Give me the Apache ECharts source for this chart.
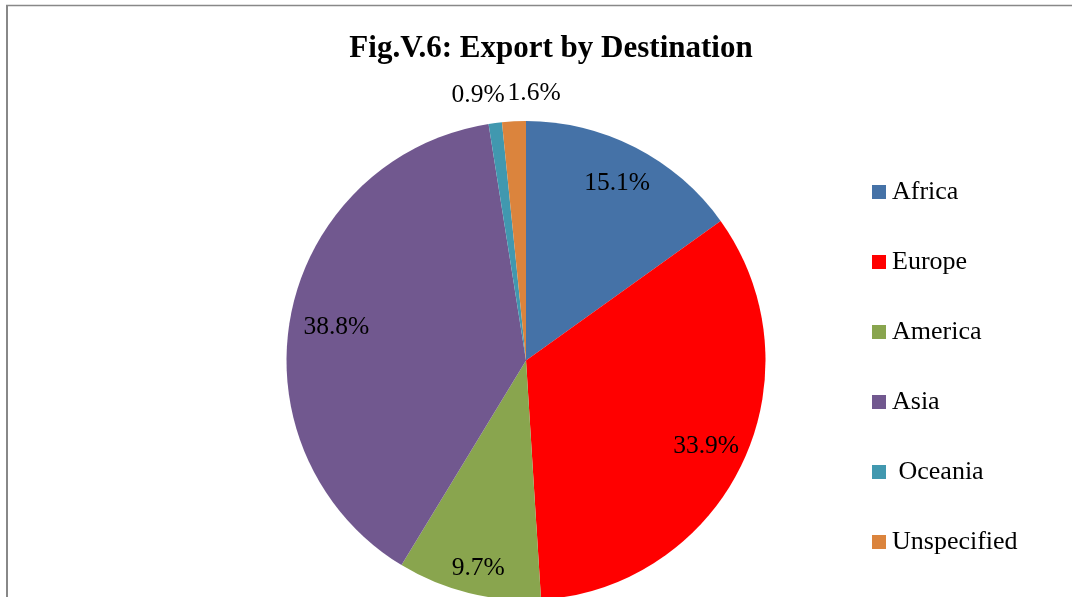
<!DOCTYPE html>
<html>
<head>
<meta charset="utf-8">
<script src="https://cdn.jsdelivr.net/npm/echarts@6/dist/echarts.min.js"></script>
<style>
html,body{margin:0;padding:0;background:#fff;}
#chart{width:1072px;height:597px;}
</style>
</head>
<body>
<div id="chart"></div>
<script>
// Data
var titleText = 'Fig.V.6: Export by Destination';
var categories = ['Africa', 'Europe', 'America', 'Asia', ' Oceania', 'Unspecified'];
var shares = [15.1, 33.9, 9.7, 38.8, 0.9, 1.6];
var colors = ['#4572A7', '#FF0000', '#89A54E', '#71588F', '#4198AF', '#DB843D'];
var outsideLabels = [' Oceania', 'Unspecified'];

var FONT = "'Liberation Serif', 'Times New Roman', serif";
var R = 239.5;

var chart = echarts.init(document.getElementById('chart'));

var mainData = categories.map(function (c, i) {
  return { name: c, value: shares[i], itemStyle: { color: colors[i] } };
});
var labelData = categories.map(function (c, i) {
  var outside = outsideLabels.indexOf(c) >= 0;
  return {
    name: c, value: shares[i],
    label: { position: outside ? 'outside' : 'inside' }
  };
});

chart.setOption({
  animation: false,
  backgroundColor: '#fff',
  title: {
    text: titleText,
    left: 546, top: 28, textAlign: 'center',
    textStyle: { fontFamily: FONT, fontSize: 31, fontWeight: 'bold', color: '#000' }
  },
  legend: {
    orient: 'vertical',
    left: 867, top: 174,
    data: categories,
    icon: 'rect',
    itemWidth: 14, itemHeight: 14,
    itemGap: 44,
    selectedMode: false,
    textStyle: { fontFamily: FONT, fontSize: 26, lineHeight: 26, color: '#000', padding: [0, 0, 0, 1] }
  },
  graphic: [
    { type: 'line', shape: { x1: 7, y1: 5, x2: 7, y2: 600 }, style: { stroke: '#888', lineWidth: 2 } },
    { type: 'line', shape: { x1: 6, y1: 5.5, x2: 1080, y2: 5.5 }, style: { stroke: '#888', lineWidth: 1.5 } }
  ],
  series: [
    {
      type: 'pie',
      center: [526, 360.5],
      radius: [0, R],
      startAngle: 90,
      clockwise: true,
      silent: true,
      label: { show: false },
      labelLine: { show: false },
      data: mainData
    },
    {
      type: 'pie',
      center: [526, 360.5],
      radius: [R * 0.64, R],
      startAngle: 90,
      clockwise: true,
      silent: true,
      avoidLabelOverlap: false,
      itemStyle: { color: 'rgba(0,0,0,0)' },
      label: {
        show: true,
        formatter: function (p) { return p.value.toFixed(1) + '%'; },
        fontFamily: FONT, fontSize: 25.5, color: '#000'
      },
      labelLine: { show: false, length: 28, length2: 0 },
      labelLayout: function (p) {
        if (p.dataIndex === 5) return { align: 'left' };
        if (p.dataIndex === 4) return { dx: 18 };
        if (p.dataIndex === 2) return { dy: 14 };
        if (p.dataIndex === 3) return { dx: 6, dy: 5 };
        return {};
      },
      data: labelData
    }
  ]
});
</script>
</body>
</html>
